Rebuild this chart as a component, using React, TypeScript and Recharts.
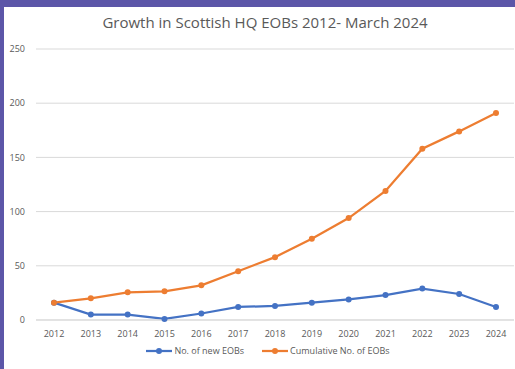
import React from 'react';
import { LineChart, Line, XAxis, YAxis, CartesianGrid, Legend } from 'recharts';

const years = ['2012', '2013', '2014', '2015', '2016', '2017', '2018', '2019', '2020', '2021', '2022', '2023', '2024'];
const newEobs = [16, 5, 5, 1, 6, 12, 13, 16, 19, 23, 29, 24, 12];
const cumulativeEobs = [16, 20, 25.5, 26.5, 32, 45, 58, 75, 94, 119, 158, 174, 191];
const yTicks = [0, 50, 100, 150, 200, 250];

const data = years.map((year, i) => ({
  year,
  newEobs: newEobs[i],
  cumulative: cumulativeEobs[i],
}));

const FONT = '"Open Sans", "Noto Sans", sans-serif';
const TEXT = '#595959';
const BLUE = '#4472c4';
const ORANGE = '#ed7d31';

const legendItems = [
  { label: 'No. of new EOBs', color: BLUE },
  { label: 'Cumulative No. of EOBs', color: ORANGE },
];

const ChartLegend = () => (
  <div style={{ display: 'flex', justifyContent: 'center', gap: 18, fontFamily: FONT, fontSize: 9, color: TEXT, paddingLeft: 14 }}>
    {legendItems.map((item) => (
      <div key={item.label} style={{ display: 'flex', alignItems: 'center' }}>
        <svg width={26} height={8} style={{ marginRight: 2 }}>
          <line x1={0} y1={4} x2={26} y2={4} stroke={item.color} strokeWidth={2.25} />
          <circle cx={13} cy={4} r={3} fill={item.color} />
        </svg>
        <span>{item.label}</span>
      </div>
    ))}
  </div>
);

const App: React.FC = () => {
  return (
    <div style={{ position: 'absolute', left: 0, top: 0, width: 515, height: 369, background: '#5c56a8' }}>
      <div style={{ position: 'absolute', left: 4, top: 7, width: 511, height: 362, background: '#fff' }}>
        <div style={{ position: 'absolute', left: 0, top: 5, width: 522, textAlign: 'center', fontFamily: FONT, fontSize: 15, color: TEXT }}>
          Growth in Scottish HQ EOBs 2012- March 2024
        </div>
        <LineChart width={511} height={362} data={data} margin={{ top: 42, right: 1, bottom: 0, left: 4 }}>
          <CartesianGrid vertical={false} stroke="#d9d9d9" />
          <XAxis
            dataKey="year"
            padding={{ left: 18, right: 18 }}
            axisLine={{ stroke: '#d9d9d9' }}
            tickLine={false}
            tickMargin={5}
            height={24}
            tick={{ fontSize: 9, fill: TEXT, fontFamily: FONT }}
          />
          <YAxis
            width={28}
            domain={[0, 250]}
            ticks={yTicks}
            axisLine={false}
            tickLine={false}
            tickMargin={5}
            tick={{ fontSize: 9, fill: TEXT, fontFamily: FONT }}
          />
          <Legend verticalAlign="bottom" height={25} content={<ChartLegend />} />
          <Line
            dataKey="newEobs"
            name="No. of new EOBs"
            stroke={BLUE}
            strokeWidth={2.25}
            dot={{ r: 3, fill: BLUE, stroke: BLUE, strokeWidth: 0 }}
            isAnimationActive={false}
          />
          <Line
            dataKey="cumulative"
            name="Cumulative No. of EOBs"
            stroke={ORANGE}
            strokeWidth={2.25}
            dot={{ r: 3, fill: ORANGE, stroke: ORANGE, strokeWidth: 0 }}
            isAnimationActive={false}
          />
        </LineChart>
      </div>
    </div>
  );
};

export default App;
